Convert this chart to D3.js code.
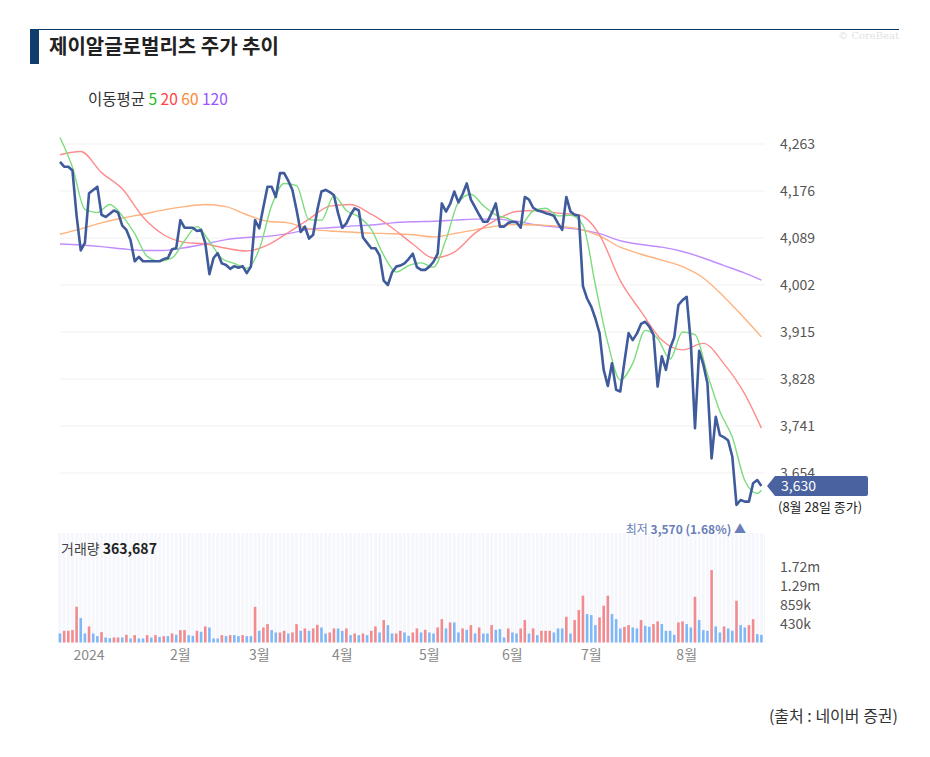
<!DOCTYPE html>
<html>
<head>
<meta charset="utf-8">
<script src="https://cdn.jsdelivr.net/npm/d3@7"></script>
<style>
  body { margin: 0; background: #fff; }
  svg { display: block; font-family: "Noto Sans CJK KR", "Noto Sans", sans-serif; }
</style>
</head>
<body>
<div id="chart"></div>
<script>
const width = 930;
const height = 757;

// daily closes, Dec 2023 - Aug 28 2024
const closes = [
  4230, 4221, 4221, 4214, 4130, 4066, 4080, 4172, 4178, 4184,
  4132, 4128, 4134, 4140, 4136, 4112, 4104, 4085, 4046, 4054,
  4046, 4046, 4046, 4046, 4046, 4050, 4052, 4068, 4070, 4122,
  4108, 4108, 4108, 4102, 4104, 4080, 4022, 4052, 4061, 4042,
  4039, 4032, 4037, 4034, 4037, 4024, 4036, 4122, 4107, 4146,
  4184, 4184, 4165, 4209, 4209, 4195, 4178, 4141, 4100, 4110,
  4088, 4095, 4141, 4175, 4178, 4174, 4168, 4135, 4108, 4116,
  4132, 4144, 4140, 4090, 4080, 4070, 4070, 4057, 4010, 4002,
  4025, 4036, 4038, 4042, 4050, 4060, 4035, 4030, 4030, 4036,
  4045, 4060, 4153, 4138, 4152, 4175, 4155, 4170, 4190, 4160,
  4146, 4132, 4119, 4119, 4135, 4153, 4110, 4110, 4117, 4119,
  4118, 4108, 4165, 4160, 4145, 4140, 4138, 4135, 4133, 4130,
  4116, 4104, 4165, 4138, 4132, 4130, 4000, 3977, 3962, 3940,
  3913, 3845, 3815, 3857, 3808, 3805, 3860, 3913, 3900, 3912,
  3930, 3934, 3925, 3910, 3814, 3870, 3845, 3885, 3905, 3965,
  3974, 3980, 3894, 3737, 3880, 3855, 3820, 3681, 3758, 3724,
  3720, 3714, 3684, 3595, 3604, 3601, 3601, 3635, 3641, 3630
];

// volume in thousands, and 1 = red (up) bar, 0 = blue bar
const volumes = [
  207, 268, 268, 284, 820, 560, 207, 368, 207, 146,
  238, 115, 100, 115, 115, 115, 176, 92, 169, 92,
  92, 169, 115, 169, 130, 146, 146, 207, 176, 284,
  284, 169, 153, 268, 245, 368, 345, 92, 92, 169,
  146, 169, 169, 146, 169, 146, 146, 820, 268, 345,
  422, 284, 230, 230, 268, 207, 230, 422, 268, 322,
  268, 322, 406, 345, 207, 230, 322, 322, 268, 322,
  169, 207, 169, 207, 169, 268, 368, 230, 514, 398,
  207, 207, 268, 230, 153, 230, 322, 230, 291, 230,
  207, 345, 537, 322, 460, 460, 230, 322, 291, 399,
  207, 345, 207, 207, 399, 291, 307, 115, 322, 230,
  207, 322, 514, 207, 322, 169, 268, 268, 268, 230,
  322, 322, 590, 207, 514, 744, 1073, 652, 629, 399,
  575, 843, 1073, 652, 537, 322, 360, 399, 345, 322,
  514, 383, 360, 422, 483, 422, 268, 268, 176, 460,
  483, 422, 345, 1050, 514, 284, 268, 1664, 368, 230,
  368, 322, 268, 958, 399, 345, 399, 537, 192, 176
];
const volUp = [
  0,1,1,1,1,0,0,1,0,0, 1,0,0,1,1,0,1,0,1,0,
  0,1,0,1,0,1,0,1,0,1, 1,0,0,1,0,1,0,0,0,1,
  0,1,0,0,1,0,0,1,0,1, 1,0,0,1,1,0,1,1,0,1,
  0,1,1,0,0,1,1,0,0,1, 0,1,0,1,0,1,1,0,1,0,
  0,1,1,0,0,1,1,0,1,0, 0,1,1,0,1,0,0,1,0,1,
  0,1,0,0,1,0,0,0,1,0, 0,1,1,0,1,0,1,1,1,0,
  0,0,1,0,1,1,1,0,0,0, 1,1,1,0,0,0,1,1,0,0,
  1,0,0,1,1,0,0,0,0,1, 1,0,0,1,0,0,0,1,0,0,
  1,0,0,1,0,0,1,1,0,0
];

// moving averages read every 3rd (MA5) / 5th day, plus the last day
const ma5 = [
  4275, 4220, 4142, 4136, 4151, 4130, 4097, 4055, 4046, 4052,
  4084, 4110, 4083, 4051, 4042, 4033, 4068, 4149, 4190, 4186,
  4123, 4122, 4167, 4140, 4128, 4105, 4057, 4026, 4038, 4043,
  4035, 4086, 4155, 4170, 4149, 4132, 4125, 4114, 4139, 4144,
  4130, 4131, 4113, 4002, 3895, 3826, 3857, 3918, 3903, 3865,
  3915, 3910, 3837, 3768, 3720, 3640, 3616, 3622
];
const ma20 = [
  4243, 4249, 4210, 4180, 4128, 4095, 4081, 4078, 4070, 4065,
  4076, 4099, 4124, 4148, 4151, 4133, 4108, 4078, 4052, 4063,
  4098, 4122, 4138, 4140, 4135, 4132, 4095, 4010, 3953, 3900,
  3882, 3894, 3856, 3800, 3737
];
const ma60 = [
  4096, 4106, 4117, 4126, 4133, 4141, 4147, 4151, 4147, 4132,
  4120, 4117, 4106, 4102, 4100, 4098, 4097, 4095, 4091, 4097,
  4104, 4111, 4114, 4113, 4111, 4106, 4093, 4072, 4059, 4048,
  4036, 4015, 3980, 3940, 3906
];
const ma120 = [
  4078, 4076, 4073, 4069, 4066, 4066, 4071, 4078, 4086, 4090,
  4092, 4097, 4105, 4108, 4111, 4113, 4117, 4119, 4120, 4122,
  4124, 4124, 4120, 4113, 4109, 4105, 4097, 4084, 4077, 4072,
  4064, 4052, 4038, 4024, 4011
];

const priceTicks = [4263, 4176, 4089, 4002, 3915, 3828, 3741, 3654];
const volTicks = [430, 859, 1290, 1720];
const volTickLabels = ["430k", "859k", "1.29m", "1.72m"];
const monthLabels = ["2024", "2월", "3월", "4월", "5월", "6월", "7월", "8월"];
const monthIdx = [7, 29, 48, 68, 89, 109, 128, 151];

const lastClose = 3630;
const lowPrice = 3570;

const svg = d3.select("#chart").append("svg")
    .attr("width", width)
    .attr("height", height);

// header
svg.append("line")
    .attr("x1", 30).attr("x2", 899).attr("y1", 29.5).attr("y2", 29.5)
    .attr("stroke", "#0e3b66").attr("stroke-width", 1);
svg.append("rect")
    .attr("x", 30).attr("y", 30).attr("width", 9).attr("height", 34)
    .attr("fill", "#0e3d6e");
svg.append("text")
    .attr("x", 49).attr("y", 54)
    .attr("font-size", 20).attr("font-weight", "bold").attr("fill", "#222")
    .text("제이알글로벌리츠 주가 추이");
svg.append("text")
    .attr("x", 899).attr("y", 39).attr("text-anchor", "end")
    .attr("font-size", 10).attr("fill", "#e2e2e2")
    .attr("font-family", "DejaVu Serif, serif")
    .text("© CoreBeat");

// legend
const legend = svg.append("text").attr("x", 88).attr("y", 105).attr("font-size", 15.5);
legend.append("tspan").attr("fill", "#333").text("이동평균 ");
legend.append("tspan").attr("fill", "#22bb22").text("5 ");
legend.append("tspan").attr("fill", "#ff4444").text("20 ");
legend.append("tspan").attr("fill", "#ff8833").text("60 ");
legend.append("tspan").attr("fill", "#9955ff").text("120");

// scales
const x = d3.scaleLinear().domain([0, closes.length - 1]).range([60, 761.4]);
const y = d3.scaleLinear().domain([3654, 4263]).range([473, 144]);
const yv = d3.scaleLinear().domain([0, 1720]).range([642.5, 567.5]);

// price grid + labels
svg.append("g").selectAll("line")
    .data(priceTicks).enter().append("line")
    .attr("x1", 60).attr("x2", 765)
    .attr("y1", d => y(d)).attr("y2", d => y(d))
    .attr("stroke", "#f1f1f1").attr("stroke-width", 1);
svg.append("g").selectAll("text")
    .data(priceTicks).enter().append("text")
    .attr("x", 780).attr("y", d => y(d)).attr("dy", "0.35em")
    .attr("font-size", 14).attr("fill", "#555")
    .text(d => d3.format(",")(d));

// volume panel
const vol = svg.append("g");
vol.append("rect")
    .attr("x", 58).attr("y", 533).attr("width", 707).attr("height", 109.5)
    .attr("fill", "#f5f7fc");
vol.selectAll("line.stripe")
    .data(closes).enter().append("line")
    .attr("class", "stripe")
    .attr("x1", (d, i) => x(i) + 2.1).attr("x2", (d, i) => x(i) + 2.1)
    .attr("y1", 533).attr("y2", 642.5)
    .attr("stroke", "#ffffff").attr("stroke-width", 1.2);
vol.selectAll("rect.bar")
    .data(volumes).enter().append("rect")
    .attr("class", "bar")
    .attr("x", (d, i) => x(i) - 1.3)
    .attr("width", 2.6)
    .attr("y", d => yv(d))
    .attr("height", d => yv(0) - yv(d))
    .attr("fill", (d, i) => volUp[i] ? "#f28b8f" : "#7fb8f6");
svg.append("g").selectAll("text")
    .data(volTicks).enter().append("text")
    .attr("x", 780).attr("y", d => yv(d)).attr("dy", "0.35em")
    .attr("font-size", 14).attr("fill", "#555")
    .text((d, i) => volTickLabels[i]);

const volLabel = svg.append("text").attr("x", 61).attr("y", 554).attr("font-size", 14);
volLabel.append("tspan").attr("fill", "#444").text("거래량 ");
volLabel.append("tspan").attr("fill", "#222").attr("font-weight", "bold")
    .text(d3.format(",")(363687));

// month axis
svg.append("g").selectAll("text")
    .data(monthIdx).enter().append("text")
    .attr("x", d => x(d)).attr("y", 660)
    .attr("text-anchor", "middle")
    .attr("font-size", 14).attr("fill", "#888")
    .text((d, i) => monthLabels[i]);

// moving averages
const idx3 = d3.range(0, closes.length - 1, 3).concat([closes.length - 1]);
const idx5 = d3.range(0, closes.length - 1, 5).concat([closes.length - 1]);
const maLine = idx => d3.line()
    .x((d, i) => x(idx[i]))
    .y(d => y(d))
    .curve(d3.curveMonotoneX);

const maSeries = [
    { values: ma120, idx: idx5, color: "#c08cff" },
    { values: ma60, idx: idx5, color: "#ffb27d" },
    { values: ma20, idx: idx5, color: "#ff8c8c" },
    { values: ma5, idx: idx3, color: "#7ddc7d" }
];
svg.append("g").selectAll("path")
    .data(maSeries).enter().append("path")
    .attr("fill", "none")
    .attr("stroke", d => d.color)
    .attr("stroke-width", 1.4)
    .attr("d", d => maLine(d.idx)(d.values));

// close line
const line = d3.line()
    .x((d, i) => x(i))
    .y(d => y(d));
svg.append("path")
    .datum(closes)
    .attr("fill", "none")
    .attr("stroke", "#3f5b9b")
    .attr("stroke-width", 2.6)
    .attr("stroke-linejoin", "round")
    .attr("d", line);

// last price marker
const ly = y(lastClose);
svg.append("path")
    .attr("d", `M767,${ly} L775,${ly - 10} L866,${ly - 10} Q868,${ly - 10} 868,${ly - 8} L868,${ly + 8} Q868,${ly + 10} 866,${ly + 10} L775,${ly + 10} Z`)
    .attr("fill", "#4a63a0");
svg.append("text")
    .attr("x", 781).attr("y", ly).attr("dy", "0.35em")
    .attr("font-size", 14).attr("fill", "#fff")
    .text(d3.format(",")(lastClose));
svg.append("text")
    .attr("x", 778).attr("y", ly + 21).attr("dy", "0.35em")
    .attr("font-size", 13).attr("fill", "#222")
    .text("(8월 28일 종가)");

const low = svg.append("text")
    .attr("x", 746).attr("y", 530).attr("dy", "0.35em")
    .attr("text-anchor", "end")
    .attr("font-size", 12).attr("fill", "#6a7eb8");
low.append("tspan").text("최저 ");
low.append("tspan").attr("font-weight", "bold")
    .text(d3.format(",")(lowPrice) + " (" + d3.format(".2f")((lastClose / lowPrice - 1) * 100) + "%) ▲");

// source
svg.append("text")
    .attr("x", 898).attr("y", 716).attr("dy", "0.35em")
    .attr("text-anchor", "end")
    .attr("font-size", 16).attr("fill", "#333")
    .text("(출처 : 네이버 증권)");
</script>
</body>
</html>
